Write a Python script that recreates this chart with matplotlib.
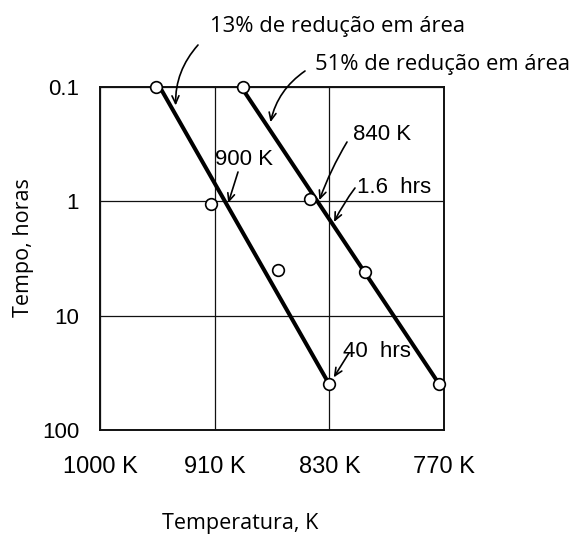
import matplotlib
matplotlib.use("Agg")
import matplotlib.pyplot as plt
import numpy as np

# Horizontal axis is reciprocal temperature, 1000/T (1/K); ticks labelled in kelvin
temp_ticks = [1.0, 1.1, 1.2, 1.3]
temp_labels = ["1000 K", "910 K", "830 K", "770 K"]
time_ticks = [0.1, 1, 10, 100]
time_labels = ["0.1", "1", "10", "100"]

# Measured points (1000/T, hours)
pts13_x = [1.049, 1.097, 1.155, 1.200]
pts13_t = [0.1, 1.05, 4.0, 40]
pts51_x = [1.125, 1.183, 1.231, 1.296]
pts51_t = [0.1, 0.95, 4.2, 40]

# Fitted lines (end points)
fit13_x = [1.052, 1.200]
fit13_t = [0.1, 40]
fit51_x = [1.123, 1.296]
fit51_t = [0.1, 40]

# Values called out on the chart
t_900K, t_840K = 900, 840
t_1p6 = 1.6
t_40 = 40

W, H = 576, 540
fig = plt.figure(figsize=(W / 100, H / 100), dpi=100)
ax = fig.add_axes([100 / W, 1 - 430 / H, 344 / W, 343.3 / H])

SANS = "Liberation Sans"
CAL = "Open Sans"


def time_on(xs, ts, x):
    lt = np.interp(x, xs, np.log10(ts))
    return 10 ** lt


def x_on(xs, ts, t):
    return np.interp(np.log10(t), np.log10(ts), xs)


ax.set_yscale("log")
ax.set_xlim(temp_ticks[0], temp_ticks[-1])
ax.set_ylim(time_ticks[-1], time_ticks[0])
ax.set_xticks(temp_ticks)
ax.set_xticklabels(temp_labels, fontfamily=SANS, fontsize=17)
ax.set_yticks(time_ticks)
ax.set_yticklabels(time_labels, fontfamily=SANS, fontsize=16)
ax.minorticks_off()
ax.tick_params(axis="both", length=0)
ax.tick_params(axis="x", pad=18.5)
ax.tick_params(axis="y", pad=15)
ax.grid(True, color="#111111", lw=0.9)
ax.set_axisbelow(True)
for s in ax.spines.values():
    s.set_linewidth(1.4)
    s.set_color("#111111")

# fitted lines
ax.plot(fit13_x, fit13_t, color="black", lw=2.9, solid_capstyle="butt", zorder=3)
ax.plot(fit51_x, fit51_t, color="black", lw=2.9, solid_capstyle="butt", zorder=3)

# measured points
mk = dict(ls="none", marker="o", ms=8.4, mfc="white", mec="black", mew=1.2,
          zorder=5, clip_on=False)
ax.plot(pts13_x, pts13_t, **mk)
ax.plot(pts51_x, pts51_t, **mk)


def fig_pt(px, py):
    return (px, H - py)


def arrow(tip, start_px, rad=0.0, shrinkB=1):
    ax.annotate("", xy=tip, xycoords="data",
                xytext=fig_pt(*start_px), textcoords="figure pixels",
                arrowprops=dict(arrowstyle="->,head_length=0.55,head_width=0.25",
                                color="black", lw=1.2, shrinkA=0, shrinkB=shrinkB,
                                connectionstyle=f"arc3,rad={rad}"),
                annotation_clip=False, zorder=6)


def label(px, py, s, family, size, **kw):
    fig.text(px / W, 1 - py / H, s, fontfamily=family, fontsize=size, **kw)


# series labels
label(210, 32, "13% de redução em área", CAL, 15.8, va="baseline")
label(315, 70, "51% de redução em área", CAL, 15.8, va="baseline")
arrow((x_on(fit13_x, fit13_t, 0.15) + 0.004, 0.15), (198, 45), rad=0.2)
arrow((x_on(fit51_x, fit51_t, 0.21) + 0.004, 0.21), (305, 71), rad=0.2)

# callouts
x900 = 1000 / t_900K
label(215, 165, "900 K", SANS, 16, va="baseline")
arrow((x900, time_on(fit13_x, fit13_t, x900)), (238, 172), rad=0.0, shrinkB=2)

x840 = 1000 / t_840K
label(353, 140, "840 K", SANS, 16, va="baseline")
arrow((x840, time_on(fit51_x, fit51_t, x840)), (347, 142), rad=0.05, shrinkB=2)

label(357, 193, "1.6  hrs", SANS, 16, va="baseline")
arrow((x_on(fit51_x, fit51_t, t_1p6), t_1p6), (355, 188), rad=0.05, shrinkB=2)

label(343, 357, "40  hrs", SANS, 16, va="baseline")
arrow((pts13_x[-1], t_40), (349, 353), rad=0.0, shrinkB=6)

# axis titles
label(23, 248, "Tempo, horas", CAL, 15.5, rotation=90, ha="center", va="center")
label(240, 524, "Temperatura, K", CAL, 15.5, ha="center", va="center")

fig.savefig("out.png", dpi=100, facecolor="white")
